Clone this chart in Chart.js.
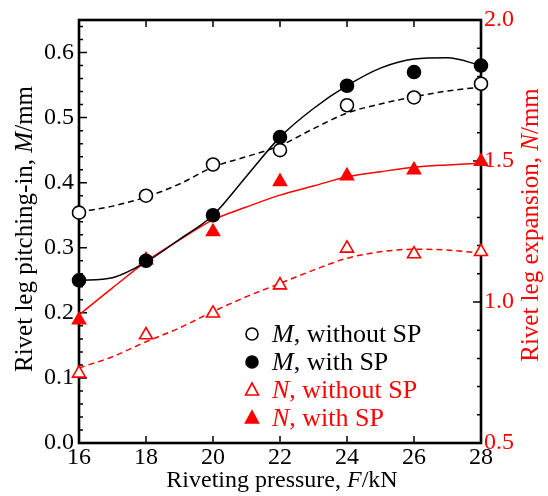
<!DOCTYPE html>
<html>
<head>
<meta charset="utf-8">
<script src="https://cdn.jsdelivr.net/npm/chart.js@4.4.1/dist/chart.umd.min.js"></script>
<style>
  html, body { margin: 0; padding: 0; background: #fff; }
  #wrap { width: 548px; height: 496px; }
</style>
</head>
<body>
<div id="wrap"><canvas id="rivetChart" width="548" height="496"></canvas></div>
<script>
// measured points
const pressure = [16, 18, 20, 22, 24, 26, 28];
const mWithout = [0.354, 0.380, 0.428, 0.450, 0.519, 0.531, 0.552];
const mWith = [0.250, 0.280, 0.350, 0.470, 0.549, 0.570, 0.580];
const nWithout = [0.747, 0.883, 0.960, 1.060, 1.190, 1.170, 1.178];
const nWith = [0.936, 1.149, 1.249, 1.427, 1.447, 1.468, 1.498];

// fitted curves at each kN
const fitPressure = [16, 17, 18, 19, 20, 21, 22, 23, 24, 25, 26, 27, 28];
const mWithoutFit = [0.355, 0.364, 0.378, 0.398, 0.424, 0.440, 0.457, 0.483, 0.507, 0.521, 0.532, 0.541, 0.547];
const mWithFit = [0.250, 0.254, 0.278, 0.313, 0.350, 0.410, 0.470, 0.514, 0.549, 0.576, 0.590, 0.592, 0.580];
const nWithoutFit = [0.766, 0.806, 0.859, 0.908, 0.966, 1.019, 1.066, 1.113, 1.155, 1.178, 1.187, 1.184, 1.173];
const nWithFit = [0.954, 1.050, 1.143, 1.220, 1.291, 1.337, 1.379, 1.411, 1.444, 1.462, 1.478, 1.486, 1.492];

const leftTicks = [0, 0.1, 0.2, 0.3, 0.4, 0.5, 0.6];
const rightTicks = [0.5, 1.0, 1.5, 2.0];
const xTicks = [16, 18, 20, 22, 24, 26, 28];

const RED = '#ff0000';
const FONT = 'Liberation Serif';

const pairs = (xs, ys) => xs.map((x, i) => ({ x: x, y: ys[i] }));

function pointSet(label, ys, axis, color, style, filled, radius) {
    return {
        label: label,
        data: pairs(pressure, ys),
        yAxisID: axis,
        showLine: false,
        pointStyle: style,
        pointRadius: radius,
        pointHoverRadius: radius,
        pointBackgroundColor: filled ? color : '#ffffff',
        pointBorderColor: color,
        pointBorderWidth: 1.6,
        clip: false,
        order: 0
    };
}

function fitSet(ys, axis, color, dashed) {
    return {
        data: pairs(fitPressure, ys),
        yAxisID: axis,
        showLine: true,
        borderColor: color,
        borderWidth: 1.5,
        borderDash: dashed ? [6, 4] : [],
        pointRadius: 0,
        cubicInterpolationMode: 'monotone',
        fill: false,
        order: 1
    };
}

// frame plus inward major / minor ticks
const frameTicks = {
    id: 'frameTicks',
    beforeDatasetsDraw(chart) {
        const ctx = chart.ctx;
        const a = chart.chartArea;
        const x = chart.scales.x, y = chart.scales.y, y2 = chart.scales.y2;
        ctx.save();
        ctx.strokeStyle = '#000';
        ctx.lineWidth = 1.5;
        ctx.beginPath();
        xTicks.forEach(v => {
            const px = x.getPixelForValue(v);
            ctx.moveTo(px, a.bottom); ctx.lineTo(px, a.bottom - 7);
            ctx.moveTo(px, a.top); ctx.lineTo(px, a.top + 7);
        });
        for (let v = 0; v <= 0.651; v += 0.02) {
            const py = y.getPixelForValue(v);
            const major = Math.abs(v * 10 - Math.round(v * 10)) < 1e-6;
            ctx.moveTo(a.left, py); ctx.lineTo(a.left + (major ? 8 : 4), py);
        }
        for (let v = 0.5; v <= 2.001; v += 0.1) {
            const py = y2.getPixelForValue(v);
            const major = Math.abs(v * 2 - Math.round(v * 2)) < 1e-6;
            ctx.moveTo(a.right, py); ctx.lineTo(a.right - (major ? 8 : 4), py);
        }
        ctx.stroke();
        ctx.lineWidth = 2.6;
        ctx.strokeRect(a.left, a.top, a.right - a.left, a.bottom - a.top);
        ctx.restore();
    }
};

function richText(ctx, parts, size) {
    let w = 0;
    parts.forEach(p => {
        ctx.font = (p.i ? 'italic ' : '') + size + 'px "' + FONT + '"';
        p.w = ctx.measureText(p.t).width;
        w += p.w;
    });
    let cx = -w / 2;
    parts.forEach(p => {
        ctx.font = (p.i ? 'italic ' : '') + size + 'px "' + FONT + '"';
        ctx.fillText(p.t, cx, 0);
        cx += p.w;
    });
}

const titles = {
    id: 'titles',
    afterDraw(chart) {
        const ctx = chart.ctx;
        ctx.save();
        ctx.textBaseline = 'middle';
        ctx.textAlign = 'left';

        ctx.fillStyle = '#000';
        ctx.save();
        ctx.translate(282, 481);
        richText(ctx, [{ t: 'Riveting pressure, ' }, { t: 'F', i: true }, { t: '/kN' }], 24);
        ctx.restore();

        ctx.save();
        ctx.translate(25, 229);
        ctx.rotate(-Math.PI / 2);
        richText(ctx, [{ t: 'Rivet leg pitching-in, ' }, { t: 'M', i: true }, { t: '/mm' }], 25);
        ctx.restore();

        ctx.fillStyle = RED;
        ctx.save();
        ctx.translate(531, 225);
        ctx.rotate(-Math.PI / 2);
        richText(ctx, [{ t: 'Rivet leg expansion, ' }, { t: 'N', i: true }, { t: '/mm' }], 25);
        ctx.restore();

        // legend
        const rows = [
            { name: 'M', rest: ', without SP', color: '#000', style: 'circle', filled: false },
            { name: 'M', rest: ', with SP', color: '#000', style: 'circle', filled: true },
            { name: 'N', rest: ', without SP', color: RED, style: 'triangle', filled: false },
            { name: 'N', rest: ', with SP', color: RED, style: 'triangle', filled: true }
        ];
        rows.forEach((r, i) => {
            const yy = 334 + i * 28;
            ctx.fillStyle = r.filled ? r.color : '#fff';
            ctx.strokeStyle = r.color;
            ctx.lineWidth = 1.6;
            ctx.beginPath();
            if (r.style === 'circle') {
                ctx.arc(252, yy, 6, 0, Math.PI * 2);
            } else {
                ctx.moveTo(252, yy - 7);
                ctx.lineTo(258.5, yy + 5);
                ctx.lineTo(245.5, yy + 5);
                ctx.closePath();
            }
            ctx.fill();
            ctx.stroke();
            ctx.fillStyle = r.color;
            ctx.font = 'italic 26px "' + FONT + '"';
            ctx.fillText(r.name, 272, yy + 1);
            const w = ctx.measureText(r.name).width;
            ctx.font = '26px "' + FONT + '"';
            ctx.fillText(r.rest, 272 + w, yy + 1);
        });
        ctx.restore();
    }
};

const ctx = document.getElementById('rivetChart').getContext('2d');
const rivetChart = new Chart(ctx, {
    type: 'scatter',
    data: {
        datasets: [
            fitSet(mWithoutFit, 'y', '#000', true),
            fitSet(mWithFit, 'y', '#000', false),
            fitSet(nWithoutFit, 'y2', RED, true),
            fitSet(nWithFit, 'y2', RED, false),
            pointSet('M, without SP', mWithout, 'y', '#000', 'circle', false, 6.5),
            pointSet('M, with SP', mWith, 'y', '#000', 'circle', true, 6.5),
            pointSet('N, without SP', nWithout, 'y2', RED, 'triangle', false, 7.5),
            pointSet('N, with SP', nWith, 'y2', RED, 'triangle', true, 7.5)
        ]
    },
    options: {
        responsive: false,
        animation: false,
        layout: { padding: { top: 20, left: 0, right: 0, bottom: 0 } },
        plugins: {
            legend: { display: false },
            tooltip: { enabled: false }
        },
        scales: {
            x: {
                type: 'linear',
                min: 16,
                max: 28,
                afterBuildTicks: s => { s.ticks = xTicks.map(v => ({ value: v })); },
                afterFit: s => { s.height = 53; },
                grid: { display: false, drawTicks: false },
                border: { display: false },
                ticks: { color: '#000', padding: 0, font: { family: FONT, size: 24 } }
            },
            y: {
                position: 'left',
                min: 0,
                max: 0.65,
                afterBuildTicks: s => { s.ticks = leftTicks.map(v => ({ value: v })); },
                afterFit: s => { s.width = 79; },
                grid: { display: false, drawTicks: false },
                border: { display: false },
                ticks: {
                    color: '#000', padding: 5,
                    font: { family: FONT, size: 24 },
                    callback: v => v.toFixed(1)
                }
            },
            y2: {
                position: 'right',
                min: 0.5,
                max: 2.0,
                afterBuildTicks: s => { s.ticks = rightTicks.map(v => ({ value: v })); },
                afterFit: s => { s.width = 67; },
                grid: { display: false, drawTicks: false },
                border: { display: false },
                ticks: {
                    color: RED, padding: 3,
                    font: { family: FONT, size: 24 },
                    callback: v => v.toFixed(1)
                }
            }
        }
    },
    plugins: [frameTicks, titles]
});
</script>
</body>
</html>
